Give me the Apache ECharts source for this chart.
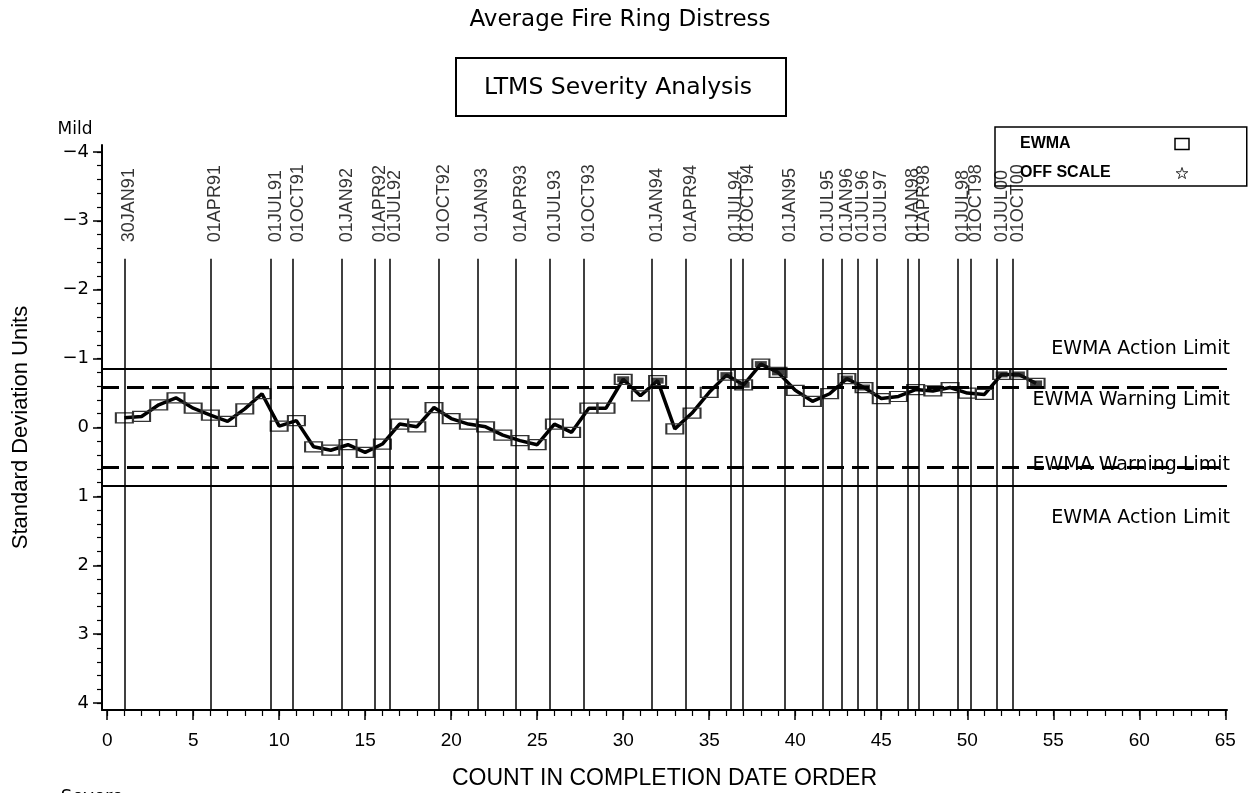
<!DOCTYPE html>
<html>
<head>
<meta charset="utf-8">
<script src="https://cdn.jsdelivr.net/npm/echarts@6.0.0/dist/echarts.min.js"></script>
<style>html,body{margin:0;padding:0;background:#fff}#c{width:1252px;height:793px}</style>
</head>
<body>
<div id="c"></div>
<script>
// ---- data ----
const counts = [1,2,3,4,5,6,7,8,9,10,11,12,13,14,15,16,17,18,19,20,21,22,23,24,25,26,27,28,29,30,31,32,33,34,35,36,37,38,39,40,41,42,43,44,45,46,47,48,49,50,51,52,53,54];
const ewma = [-0.14,-0.16,-0.33,-0.43,-0.28,-0.18,-0.09,-0.27,-0.49,-0.02,
              -0.10,0.28,0.33,0.25,0.36,0.24,-0.05,-0.01,-0.29,-0.13,
              -0.05,-0.01,0.11,0.19,0.25,-0.05,0.07,-0.28,-0.28,-0.70,
              -0.46,-0.68,0.02,-0.21,-0.51,-0.76,-0.62,-0.92,-0.80,-0.54,
              -0.38,-0.49,-0.71,-0.58,-0.42,-0.45,-0.55,-0.53,-0.58,-0.50,
              -0.48,-0.77,-0.77,-0.64];
const flagged = [30,32,36,37,38,39,43,44,52,53,54];
const dateLabels = ['30JAN91','01APR91','01JUL91','01OCT91','01JAN92','01APR92','01JUL92','01OCT92','01JAN93','01APR93','01JUL93','01OCT93','01JAN94','01APR94','01JUL94','01OCT94','01JAN95','01JUL95','01JAN96','01JUL96','01JUL97','01JAN98','01APR98','01JUL98','01OCT98','01JUL00','01OCT00'];
const datePos = [1.0,6.0,9.52,10.8,13.66,15.58,16.45,19.29,21.53,23.77,25.74,27.72,31.67,33.65,36.27,36.97,39.41,41.62,42.73,43.66,44.71,46.56,47.2,49.47,50.23,51.74,52.67];
const actionLimit = 0.855;
const warningLimit = 0.58;
const xTicks = [0,5,10,15,20,25,30,35,40,45,50,55,60,65];
const yTicks = [-4,-3,-2,-1,0,1,2,3,4];

// ---- layout helpers ----
const X_MIN = -0.3, X_MAX = 65.1, Y_MIN = -4.1, Y_MAX = 4.1;
const LINE_TOP = -2.45, LABEL_ANCHOR = -2.69;
const xMinor = []; for (let i = 0; i <= 65; i++) xMinor.push(i);
const yMinor = []; for (let i = -20; i <= 20; i++) yMinor.push(Math.round(i * 2) / 10);

const GEO = "'DejaVu Sans', sans-serif";
const SANS = "'Liberation Sans', sans-serif";
const STAR = 'path://M50,0 L61,35 L98,35 L68,57 L79,91 L50,70 L21,91 L32,57 L2,35 L39,35 Z';

const chart = echarts.init(document.getElementById('c'), null, {renderer: 'canvas'});
const fmtY = v => v < 0 ? '\u2212' + (-v) : String(v);

const option = {
  backgroundColor: '#fff',
  animation: false,
  grid: {left: 102, right: 25, top: 145, bottom: 83, containLabel: false, outerBoundsMode: 'none'},
  xAxis: [
    {
      type: 'value', min: X_MIN, max: X_MAX, position: 'bottom',
      name: 'COUNT IN COMPLETION DATE ORDER', nameLocation: 'middle', nameGap: 57,
      nameTextStyle: {fontFamily: SANS, fontSize: 23, color: '#000'},
      axisLine: {show: true, onZero: false, lineStyle: {color: '#000', width: 2}},
      axisTick: {show: true, length: 10, customValues: xTicks, lineStyle: {color: '#000', width: 1.5}},
      axisLabel: {show: true, customValues: xTicks, margin: 21, fontFamily: SANS, fontSize: 19, color: '#000'},
      splitLine: {show: false}
    },
    {
      type: 'value', min: X_MIN, max: X_MAX, position: 'bottom', gridIndex: 0,
      axisLine: {show: false, onZero: false},
      axisTick: {show: true, length: 6, customValues: xMinor, lineStyle: {color: '#000', width: 1.2}},
      axisLabel: {show: false}, splitLine: {show: false}
    }
  ],
  yAxis: [
    {
      type: 'value', min: Y_MIN, max: Y_MAX, inverse: true, position: 'left',
      name: 'Standard Deviation Units', nameLocation: 'middle', nameGap: 70, nameRotate: 90,
      nameTextStyle: {fontFamily: SANS, fontSize: 22, color: '#000'},
      axisLine: {show: true, onZero: false, lineStyle: {color: '#000', width: 2}},
      axisTick: {show: true, length: 9, customValues: yTicks, lineStyle: {color: '#000', width: 1.5}},
      axisLabel: {show: true, customValues: yTicks, margin: 13, formatter: fmtY, fontFamily: GEO, fontSize: 18, color: '#000'},
      splitLine: {show: false}
    },
    {
      type: 'value', min: Y_MIN, max: Y_MAX, inverse: true, position: 'left', gridIndex: 0,
      axisLine: {show: false, onZero: false},
      axisTick: {show: true, length: 5, customValues: yMinor, lineStyle: {color: '#000', width: 1.2}},
      axisLabel: {show: false}, splitLine: {show: false}
    }
  ],
  legend: {
    orient: 'vertical', left: 995, top: 127,
    align: 'right',
    padding: [9, 57, 5, 25],
    itemGap: 13, itemWidth: 14, itemHeight: 11,
    borderColor: '#000', borderWidth: 1.5, backgroundColor: 'transparent',
    formatter: name => '{t|' + name + '}',
    textStyle: {
      color: '#000',
      rich: {t: {width: 150, align: 'left', fontFamily: SANS, fontWeight: 'bold', fontSize: 16, color: '#000'}}
    },
    data: [
      {name: 'EWMA', icon: 'rect', itemStyle: {color: '#fff', borderColor: '#000', borderWidth: 1.5}},
      {name: 'OFF SCALE', icon: STAR, itemStyle: {color: '#fff', borderColor: '#000', borderWidth: 1}}
    ]
  },
  graphic: [
    {type: 'text', x: 620, y: 20, style: {text: 'Average Fire Ring Distress', font: "23px 'DejaVu Sans'", fill: '#000', textAlign: 'center', textVerticalAlign: 'middle'}},
    {type: 'rect', shape: {x: 456, y: 58, width: 330, height: 58}, style: {fill: 'none', stroke: '#000', lineWidth: 2}},
    {type: 'text', x: 618, y: 88, style: {text: 'LTMS Severity Analysis', font: "23.5px 'DejaVu Sans'", fill: '#000', textAlign: 'center', textVerticalAlign: 'middle'}},
    {type: 'text', x: 75, y: 130, style: {text: 'Mild', font: "17px 'DejaVu Sans'", fill: '#000', textAlign: 'center', textVerticalAlign: 'middle'}},
    {type: 'text', x: 92, y: 797, style: {text: 'Severe', font: "18px 'DejaVu Sans'", fill: '#000', textAlign: 'center', textVerticalAlign: 'middle'}}
  ],
  series: [
    {
      name: 'dates', type: 'scatter', z: 1,
      data: datePos.map((x, i) => ({value: [x, LABEL_ANCHOR], name: dateLabels[i]})),
      symbolSize: 1, itemStyle: {color: 'rgba(0,0,0,0)'},
      label: {show: true, position: 'inside', formatter: p => p.name, rotate: 90, align: 'left', verticalAlign: 'middle',
              offset: [0, 5], fontFamily: SANS, fontSize: 18, color: '#000'},
      silent: true,
      markLine: {
        silent: true, symbol: 'none', animation: false,
        lineStyle: {color: '#000', width: 1.5, type: 'solid'},
        label: {show: false},
        data: datePos.map(x => [{coord: [x, LINE_TOP]}, {coord: [x, Y_MAX]}])
      }
    },
    {
      name: 'EWMA', type: 'line', z: 3,
      data: counts.map((c, i) => [c, ewma[i]]),
      symbol: 'rect', symbolSize: [17, 10], showAllSymbol: true,
      lineStyle: {color: '#000', width: 3.5},
      itemStyle: {color: 'rgba(255,255,255,0)', borderColor: '#333', borderWidth: 1.6},
      markLine: {
        silent: true, symbol: 'none', animation: false,
        label: {show: true, fontFamily: GEO, fontSize: 19, color: '#000', position: 'insideEndTop', distance: 0},
        data: [
          {yAxis: -actionLimit, lineStyle: {color: '#000', width: 2, type: 'solid'}, label: {formatter: 'EWMA Action Limit', offset: [3, -10]}},
          {yAxis: -warningLimit, lineStyle: {color: '#000', width: 3, type: [17, 8]}, label: {formatter: 'EWMA Warning Limit', offset: [3, 22]}},
          {yAxis: warningLimit, lineStyle: {color: '#000', width: 3, type: [17, 8]}, label: {formatter: 'EWMA Warning Limit', offset: [3, 7]}},
          {yAxis: actionLimit, lineStyle: {color: '#000', width: 2, type: 'solid'}, label: {formatter: 'EWMA Action Limit', offset: [3, 41]}}
        ]
      }
    },
    {
      name: 'flag', type: 'scatter', z: 4,
      data: flagged.map(c => [c, ewma[c - 1]]),
      symbol: 'rect', symbolSize: [12, 6], itemStyle: {color: '#111'}, silent: true
    },
    {
      name: 'OFF SCALE', type: 'scatter', z: 4, data: [],
      symbol: STAR, symbolSize: 14, itemStyle: {color: '#fff', borderColor: '#000', borderWidth: 1}
    }
  ]
};
chart.setOption(option);
</script>
</body>
</html>
